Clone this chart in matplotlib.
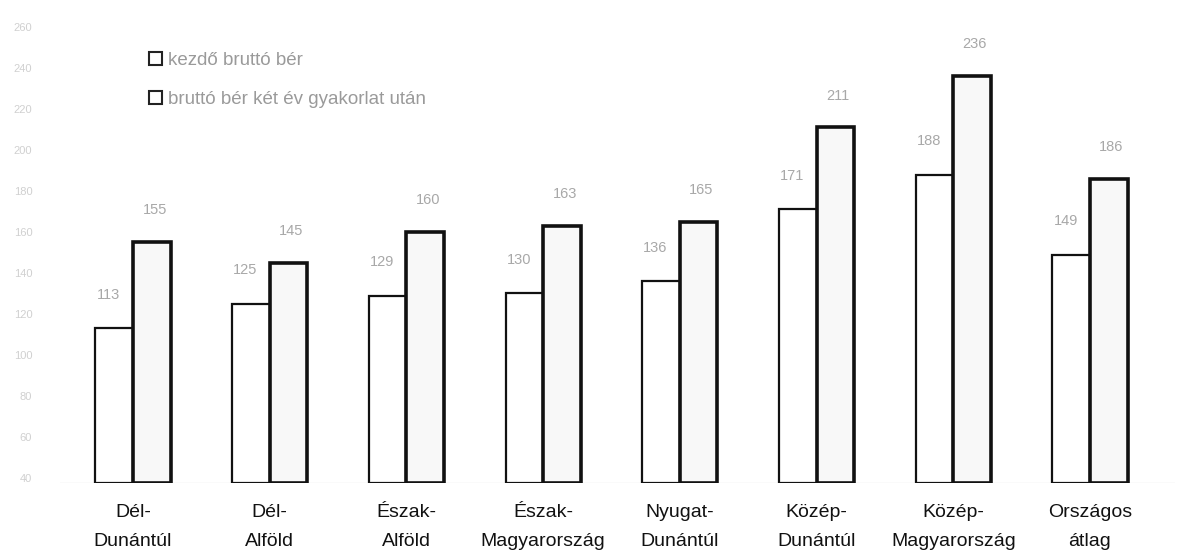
import numpy as np
import matplotlib
matplotlib.use("Agg")
import matplotlib.pyplot as plt
from matplotlib.patches import Patch

plt.rcParams['font.family'] = ['Liberation Sans', 'DejaVu Sans']

# Data (thousand HUF)
regions = ["Dél-\nDunántúl", "Dél-\nAlföld", "Észak-\nAlföld", "Észak-\nMagyarország",
           "Nyugat-\nDunántúl", "Közép-\nDunántúl", "Közép-\nMagyarország", "Országos\nátlag"]
start_pay = [113, 125, 129, 130, 136, 171, 188, 149]
after_two_years = [155, 145, 160, 163, 165, 211, 236, 186]
yticks = list(range(40, 261, 20))
legend_labels = ["kezdő bruttó bér", "bruttó bér két év gyakorlat után"]

floor = 37.5
x = np.arange(len(regions))
w = 0.275

fig = plt.figure(figsize=(11.85, 5.51), dpi=100)
ax = fig.add_axes([60 / 1185, 1 - 483 / 551, 1115 / 1185, 460 / 551])

b1 = ax.bar(x - w / 2, np.array(start_pay) - floor, w, bottom=floor,
            facecolor="white", edgecolor="#111111", linewidth=1.6)
b2 = ax.bar(x + w / 2, np.array(after_two_years) - floor, w, bottom=floor,
            facecolor="#f8f8f8", edgecolor="#111111", linewidth=2.6)

for xi, v in zip(x - w / 2, start_pay):
    ax.annotate(str(v), (xi, v), xytext=(-4, 24), textcoords="offset points",
                ha="center", va="center", fontsize=10.5, color="#a8a8a8")
for xi, v in zip(x + w / 2, after_two_years):
    ax.annotate(str(v), (xi, v), xytext=(2, 23), textcoords="offset points",
                ha="center", va="center", fontsize=10.5, color="#a8a8a8")

ax.axhline(floor, color="#b0b0b0", linewidth=0.8, zorder=0)

ax.set_xlim(-0.534, 7.622)
ax.set_ylim(floor, 262)
ax.set_yticks(yticks)
ax.set_yticklabels([str(t) for t in yticks], fontsize=8, color="#d0d0d0")
ax.tick_params(axis="y", length=0, pad=20)
ax.set_xticks(x)
ax.set_xticklabels(regions, fontsize=14, color="#111111", linespacing=1.9)
ax.tick_params(axis="x", length=0, pad=15)
for s in ax.spines.values():
    s.set_visible(False)

handles = [Patch(facecolor="white", edgecolor="#222222", linewidth=1.5),
           Patch(facecolor="white", edgecolor="#222222", linewidth=1.5)]
fig.legend(handles, legend_labels, loc="upper left", bbox_to_anchor=(132 / 1185, 1 - 35 / 551),
           frameon=False, fontsize=13.5, labelcolor="#9a9a9a", handlelength=0.7,
           handleheight=0.7, handletextpad=0.3, labelspacing=1.15)

fig.savefig("out.png", dpi=100)
